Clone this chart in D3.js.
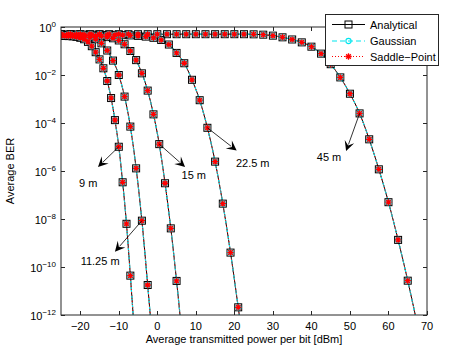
<!DOCTYPE html>
<html><head><meta charset="utf-8">
<script src="https://cdn.jsdelivr.net/npm/d3@7"></script>
<style>body{margin:0;background:#fff}text{font-family:"Liberation Sans",Arial,Helvetica,sans-serif}</style>
</head><body><svg id="c" width="471" height="354"></svg>
<script>
// ---- data (BER given as log10 values) ----
const distances = ["9 m","11.25 m","15 m","22.5 m","45 m"];
const power_9m = [-25,-24,-23,-22,-21,-20,-19,-18,-17,-16,-15,-14,-13,-12,-11,-10,-9,-8,-7,-6];
const logBER_9m = [-0.37,-0.37,-0.38,-0.39,-0.41,-0.45,-0.51,-0.62,-0.80,-1.05,-1.35,-1.72,-2.25,-2.96,-3.88,-4.99,-6.47,-8.2,-10.36,-12.6];
const power_11m = [-25,-23.5,-22,-20.5,-19,-17.5,-16,-14.5,-13,-11.5,-10,-8.5,-7,-5.5,-4,-2.5,-1];
const logBER_11m = [-0.35,-0.35,-0.36,-0.37,-0.39,-0.43,-0.51,-0.68,-0.98,-1.40,-2.0,-2.9,-4.15,-5.89,-8.07,-10.75,-13.6];
const power_15m = [-25,-23.5,-22,-20.5,-19,-17.5,-16,-14.5,-13,-11.5,-10,-8.5,-7,-5.5,-4,-2.5,-1,0.5,2,3.5,5,6.5];
const logBER_15m = [-0.33,-0.33,-0.34,-0.34,-0.35,-0.36,-0.37,-0.39,-0.42,-0.47,-0.56,-0.72,-1.0,-1.38,-1.93,-2.65,-3.64,-4.88,-6.51,-8.39,-10.58,-13.0];
const power_22m = [-25,-23,-21,-19,-17,-15,-13,-11,-9,-7,-5,-3,-1,1,3,5,7,9,11,13,15,17,19,21,23];
const logBER_22m = [-0.31,-0.31,-0.31,-0.32,-0.32,-0.32,-0.33,-0.33,-0.34,-0.35,-0.37,-0.40,-0.45,-0.54,-0.73,-1.08,-1.51,-2.2,-3.05,-4.2,-5.61,-7.36,-9.4,-11.68,-14.1];
const power_45m = [-25,-22.5,-20,-17.5,-15,-12.5,-10,-7.5,-5,-2.5,0,2.5,5,7.5,10,12.5,15,17.5,20,22.5,25,27.5,30,32.5,35,37.5,40,42.5,45,47.5,50,52.5,55,57.5,60,62.5,65,67.5];
const logBER_45m = [-0.30,-0.30,-0.30,-0.30,-0.30,-0.30,-0.30,-0.30,-0.30,-0.30,-0.30,-0.30,-0.30,-0.30,-0.30,-0.30,-0.30,-0.30,-0.30,-0.30,-0.305,-0.32,-0.36,-0.43,-0.52,-0.64,-0.82,-1.11,-1.55,-2.1,-2.78,-3.6,-4.68,-5.93,-7.3,-8.87,-10.57,-12.4];
const methods = ["Analytical","Gaussian","Saddle\u2212Point"];
const xTicks = [-20,-10,0,10,20,30,40,50,60,70];
const yTickExp = [0,-2,-4,-6,-8,-10,-12];
// annotations: [label, curve index, point index, arrow tip (dBm, log10 BER), text pos (dBm, log10 BER)]
const notes = [
  ["9 m",0,15,[-15.4,-5.83],[-20.3,-6.67]],
  ["11.25 m",1,14,[-11.0,-9.36],[-19.9,-9.92]],
  ["15 m",2,17,[7.2,-5.83],[6.3,-6.33]],
  ["22.5 m",3,19,[20.6,-5.15],[20.4,-5.83]],
  ["45 m",4,31,[49.0,-5.17],[41.4,-5.6]]
];

const curves = [
  {p:power_9m,v:logBER_9m},{p:power_11m,v:logBER_11m},{p:power_15m,v:logBER_15m},
  {p:power_22m,v:logBER_22m},{p:power_45m,v:logBER_45m}
].map(c=>c.p.map((p,i)=>({p, ber:Math.pow(10,c.v[i])})));

const L=61,R=427,T=27,B=315;
const svg=d3.select("#c");
const x=d3.scaleLinear().domain([-25,70]).range([L,R]);
const y=d3.scaleLog().domain([1e-12,1]).range([B,T]);
const axisCol="#262626";

svg.append("defs").append("clipPath").attr("id","clip").append("rect")
  .attr("x",L).attr("y",T).attr("width",R-L).attr("height",B-T);

const plot=svg.append("g").attr("clip-path","url(#clip)");
const line=d3.line().x(d=>x(d.p)).y(d=>y(d.ber)).curve(d3.curveMonotoneX);

function drawSquare(g,cx,cy){g.append("rect").attr("x",cx-3.5).attr("y",cy-3.5).attr("width",7).attr("height",7)
  .attr("fill","none").attr("stroke","#000").attr("stroke-width",1);}
function drawCircle(g,cx,cy){g.append("circle").attr("cx",cx).attr("cy",cy).attr("r",2.6)
  .attr("fill","none").attr("stroke","#00e5ee").attr("stroke-width",1.1);}
function drawStar(g,cx,cy){const r=3.2,s=r*0.72;
  g.append("path").attr("d",`M${cx},${cy-r}V${cy+r}M${cx-r},${cy}H${cx+r}M${cx-s},${cy-s}L${cx+s},${cy+s}M${cx-s},${cy+s}L${cx+s},${cy-s}`)
   .attr("stroke","#ff0000").attr("stroke-width",1.3).attr("fill","none");}

curves.forEach(c=>{
  plot.append("path").datum(c).attr("d",line).attr("fill","none").attr("stroke","#000").attr("stroke-width",1);
  plot.append("path").datum(c).attr("d",line).attr("fill","none").attr("stroke","#00e5ee").attr("stroke-width",1.2).attr("stroke-dasharray","5,3");
  plot.append("path").datum(c).attr("d",line).attr("fill","none").attr("stroke","#ff0000").attr("stroke-width",1).attr("stroke-dasharray","1,2");
});
curves.forEach(c=>c.forEach(d=>drawSquare(plot,x(d.p),y(d.ber))));
curves.forEach(c=>c.forEach(d=>drawCircle(plot,x(d.p),y(d.ber))));
curves.forEach(c=>c.forEach(d=>drawStar(plot,x(d.p),y(d.ber))));

// axes box and ticks
const ax=svg.append("g");
ax.append("rect").attr("x",L).attr("y",T).attr("width",R-L).attr("height",B-T).attr("fill","none").attr("stroke",axisCol).attr("stroke-width",1);
xTicks.forEach(t=>{const px=Math.round(x(t))+0.5;
  ax.append("line").attr("x1",px).attr("x2",px).attr("y1",B).attr("y2",B-4).attr("stroke",axisCol);
  ax.append("line").attr("x1",px).attr("x2",px).attr("y1",T).attr("y2",T+4).attr("stroke",axisCol);
  ax.append("text").attr("x",x(t)).attr("y",B+15).attr("text-anchor","middle").attr("font-size",11).attr("fill","#000")
    .text(t<0?"\u2212"+Math.abs(t):t);
});
yTickExp.forEach(e=>{const py=Math.round(y(Math.pow(10,e)))+0.5;
  ax.append("line").attr("x1",L).attr("x2",L+4).attr("y1",py).attr("y2",py).attr("stroke",axisCol);
  ax.append("line").attr("x1",R).attr("x2",R-4).attr("y1",py).attr("y2",py).attr("stroke",axisCol);
  const tx=ax.append("text").attr("x",L-5).attr("y",py+4).attr("text-anchor","end").attr("font-size",11).attr("fill","#000");
  tx.append("tspan").text("10");
  tx.append("tspan").attr("dy",-5).attr("font-size",8).text(e<0?"\u2212"+Math.abs(e):e);
});
svg.append("text").attr("x",(L+R)/2).attr("y",343).attr("text-anchor","middle").attr("font-size",11).text("Average transmitted power per bit [dBm]");
svg.append("text").attr("transform",`translate(14,${(T+B)/2}) rotate(-90)`).attr("text-anchor","middle").attr("font-size",11).text("Average BER");

// annotations
notes.forEach(([lab,ci,pi,tip,tp])=>{
  const d=curves[ci][pi];
  const x0=x(d.p),y0=y(d.ber),x1=x(tip[0]),y1=y(Math.pow(10,tip[1]));
  const ang=Math.atan2(y1-y0,x1-x0),len=10,w=5;
  const bx=x1-len*Math.cos(ang),by=y1-len*Math.sin(ang);
  svg.append("line").attr("x1",x0).attr("y1",y0).attr("x2",bx+3*Math.cos(ang)).attr("y2",by+3*Math.sin(ang)).attr("stroke","#000").attr("stroke-width",0.8);
  const nx=-Math.sin(ang),ny=Math.cos(ang);
  const mx=x1-0.6*len*Math.cos(ang),my=y1-0.6*len*Math.sin(ang);
  svg.append("path").attr("d",`M${x1},${y1}L${bx+nx*w},${by+ny*w}L${mx},${my}L${bx-nx*w},${by-ny*w}Z`).attr("fill","#000");
  svg.append("text").attr("x",x(tp[0])).attr("y",y(Math.pow(10,tp[1]))).attr("font-size",11).text(lab);
});

// legend
const lg=svg.append("g");
lg.append("rect").attr("x",325.5).attr("y",14.5).attr("width",113).attr("height",51).attr("fill","#fff").attr("stroke",axisCol);
const rows=[24.5,41,56.5];
methods.forEach((m,i)=>{const yy=rows[i];
  const st=[["#000",null,1],["#00e5ee","5,3",1.2],["#ff0000","1,2",1]][i];
  const l=lg.append("line").attr("x1",332).attr("x2",365).attr("y1",yy).attr("y2",yy).attr("stroke",st[0]).attr("stroke-width",st[2]);
  if(st[1]) l.attr("stroke-dasharray",st[1]);
  if(i===0) drawSquare(lg,348.5,yy); else if(i===1) drawCircle(lg,348.5,yy); else drawStar(lg,348.5,yy);
  lg.append("text").attr("x",370).attr("y",yy+4).attr("font-size",11).text(m);
});
</script></body></html>
